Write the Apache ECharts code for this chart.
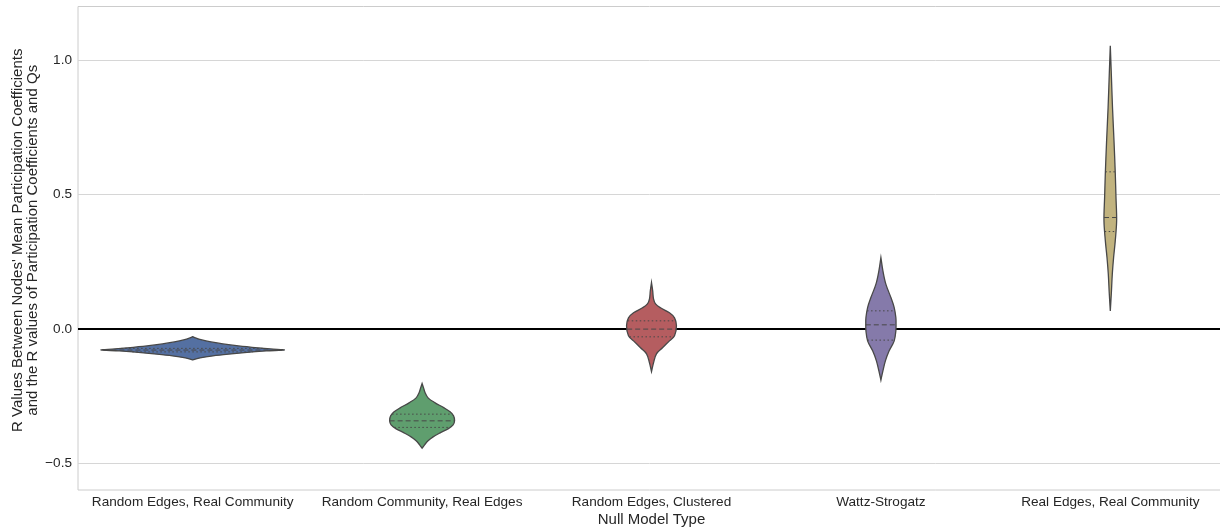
<!DOCTYPE html>
<html>
<head>
    <meta charset="utf-8" />
    <title></title>
    <script type="text/javascript" src="https://cdn.jsdelivr.net/npm/echarts@6/dist/echarts.min.js"></script>
    <style>
        html, body { margin: 0; padding: 0; background: #fff; }
        #main { width: 1220px; height: 527px; }
    </style>
</head>
<body>
    <div id="main"></div>
    <script type="text/javascript">
        var categories = ['Random Edges, Real Community', 'Random Community, Real Edges', 'Random Edges, Clustered', 'Wattz-Strogatz', 'Real Edges, Real Community'];
        var yTicks = [-0.5, 0, 0.5, 1.0];

        // violin outlines, top to bottom: R value and half width (1 = widest violin)
        var randEdgesValues = [-0.029, -0.0338, -0.0413, -0.0487, -0.0562, -0.0636, -0.0711, -0.0748, -0.0785, -0.0822, -0.086, -0.0934, -0.1008, -0.1083, -0.116];
        var randEdgesWidths = [0, 0.03, 0.1, 0.2, 0.33, 0.5, 0.72, 0.85, 1, 0.8, 0.65, 0.42, 0.22, 0.08, 0];
        var randEdgesQuart = [-0.0858, -0.079, -0.0728];

        var randCommValues = [-0.2036, -0.2197, -0.2383, -0.2569, -0.2755, -0.2941, -0.309, -0.3239, -0.3425, -0.3574, -0.3723, -0.3872, -0.4021, -0.417, -0.4319, -0.4442];
        var randCommWidths = [0, 0.016, 0.033, 0.065, 0.142, 0.24, 0.305, 0.343, 0.354, 0.338, 0.283, 0.196, 0.12, 0.065, 0.027, 0];
        var randCommQuart = [-0.367, -0.3425, -0.3176];

        var clusteredValues = [0.1724, 0.1415, 0.1117, 0.0931, 0.0782, 0.0596, 0.041, 0.0112, -0.0261, -0.0447, -0.0707, -0.0931, -0.1266, -0.159];
        var clusteredWidths = [0, 0.013, 0.022, 0.044, 0.098, 0.196, 0.251, 0.272, 0.251, 0.196, 0.12, 0.054, 0.022, 0];
        var clusteredQuart = [-0.0298, -0.001, 0.0298];

        var wattsValues = [0.2655, 0.2159, 0.1664, 0.1165, 0.0793, 0.0421, 0.0186, -0.0074, -0.0447, -0.0819, -0.1191, -0.1564, -0.191];
        var wattsWidths = [0, 0.022, 0.054, 0.109, 0.145, 0.163, 0.165, 0.163, 0.145, 0.09, 0.049, 0.022, 0];
        var wattsQuart = [-0.042, 0.0149, 0.067];

        var realValues = [1.0536, 0.9494, 0.8239, 0.7022, 0.5808, 0.4888, 0.4021, 0.3276, 0.2655, 0.2048, 0.1303, 0.067];
        var realWidths = [0, 0.011, 0.024, 0.04, 0.054, 0.062, 0.069, 0.054, 0.036, 0.022, 0.011, 0];
        var realQuart = [0.3622, 0.4144, 0.5845];

        var violins = [
            { values: randEdgesValues, widths: randEdgesWidths, quart: randEdgesQuart },
            { values: randCommValues, widths: randCommWidths, quart: randCommQuart },
            { values: clusteredValues, widths: clusteredWidths, quart: clusteredQuart },
            { values: wattsValues, widths: wattsWidths, quart: wattsQuart },
            { values: realValues, widths: realWidths, quart: realQuart }
        ];
        var colors = ['#5470a2', '#5f9e6e', '#b55d60', '#857aaa', '#c1b37f'];
        var edgeColor = '#484848';
        var textColor = '#262626';
        var fontFamily = '"Liberation Sans", Arial, sans-serif';

        // width of the outline at a given value
        function widthAt(v, vals, ws) {
            for (var i = 0; i < vals.length - 1; i++) {
                if (v <= vals[i] && v >= vals[i + 1]) {
                    var t = (vals[i] - v) / (vals[i] - vals[i + 1]);
                    return ws[i] + t * (ws[i + 1] - ws[i]);
                }
            }
            return 0;
        }

        function renderViolin(params, api) {
            var idx = api.value(0);
            var p = violins[idx];
            var cx = api.coord([idx, 0])[0];
            var half = api.size([1, 0])[0] * 0.4;
            var right = [], left = [];
            for (var i = 0; i < p.values.length; i++) {
                var y = api.coord([idx, p.values[i]])[1];
                right.push([cx + p.widths[i] * half, y]);
                left.unshift([cx - p.widths[i] * half, y]);
            }
            var children = [{
                type: 'polygon',
                shape: { points: right.concat(left), smooth: 0.35 },
                style: { fill: colors[idx], stroke: edgeColor, lineWidth: 1.3 }
            }];
            for (var q = 0; q < p.quart.length; q++) {
                var w = widthAt(p.quart[q], p.values, p.widths) * half;
                var yq = api.coord([idx, p.quart[q]])[1];
                children.push({
                    type: 'line',
                    shape: { x1: cx - w, y1: yq, x2: cx + w, y2: yq },
                    style: { stroke: edgeColor, lineWidth: 1, lineDash: q === 1 ? [5, 3] : [1.5, 2.5] }
                });
            }
            return { type: 'group', children: children };
        }

        var myChart = echarts.init(document.getElementById('main'));
        var option = {
            backgroundColor: '#fff',
            animation: false,
            grid: {
                left: 78, right: -5, top: 6.5, bottom: 37,
                outerBoundsMode: 'none',
                containLabel: false,
                show: true, borderColor: '#cccccc', borderWidth: 1, backgroundColor: '#fff'
            },
            xAxis: {
                type: 'category',
                data: categories,
                name: 'Null Model Type',
                nameLocation: 'middle',
                nameGap: 22,
                nameMoveOverlap: false,
                nameTextStyle: { color: textColor, fontSize: 15, fontFamily: fontFamily },
                axisLine: { show: false },
                axisTick: { show: false },
                axisLabel: { color: textColor, fontSize: 13.6, fontFamily: fontFamily, margin: 5, interval: 0 },
                splitLine: { show: false }
            },
            yAxis: {
                type: 'value',
                min: -0.6,
                max: 1.2,
                name: "R Values Between Nodes' Mean Participation Coefficients\nand the R values of Participation Coefficients and Qs",
                nameLocation: 'middle',
                nameGap: 38,
                nameMoveOverlap: false,
                nameTextStyle: { color: textColor, fontSize: 15, fontFamily: fontFamily, lineHeight: 15, padding: [0, 0, 0, 16] },
                axisLine: { show: false },
                axisTick: { show: false },
                splitLine: { show: false },
                axisLabel: {
                    customValues: yTicks,
                    color: textColor, fontSize: 13.6, fontFamily: fontFamily, margin: 6,
                    formatter: function (v) { return v.toFixed(1).replace('-', '\u2212'); }
                }
            },
            series: [{
                type: 'line',
                data: [],
                z: 1,
                markLine: {
                    silent: true,
                    symbol: 'none',
                    label: { show: false },
                    data: yTicks.map(function (v) {
                        return {
                            yAxis: v,
                            lineStyle: v === 0 ? { color: '#000', width: 2, type: 'solid' } : { color: '#d6d6d6', width: 1, type: 'solid' }
                        };
                    })
                }
            }, {
                type: 'custom',
                zlevel: 1,
                z: 3,
                renderItem: renderViolin,
                encode: { x: 0, y: 1 },
                data: categories.map(function (c, i) { return [i, 0]; })
            }]
        };
        option && myChart.setOption(option);
    </script>
</body>
</html>
